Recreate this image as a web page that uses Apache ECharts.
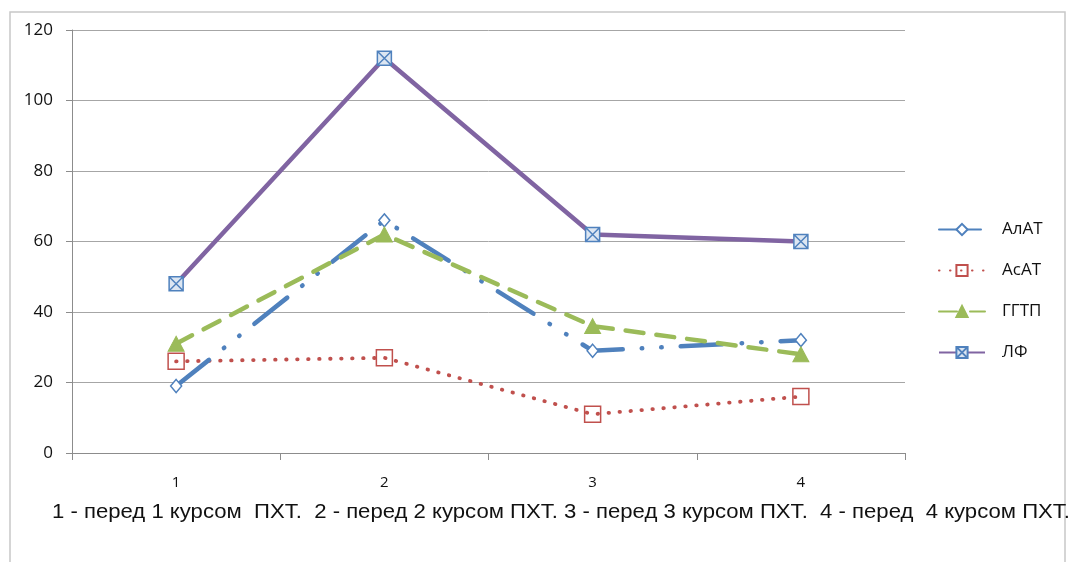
<!DOCTYPE html>
<html>
<head>
<meta charset="utf-8">
<script src="https://cdn.jsdelivr.net/npm/echarts@6/dist/echarts.min.js"></script>
<style>
  html, body { margin: 0; padding: 0; background: #fff; }
  #chart { width: 1075px; height: 562px; }
</style>
</head>
<body>
<div id="chart"></div>
<script>
// Category labels (stages of treatment)
const categories = ['1', '2', '3', '4'];

// Enzyme levels at each stage
const alat = [19, 66, 29, 32];   // АлАТ
const asat = [26, 27, 11, 16];   // АсАТ
const ggtp = [31, 62, 36, 28];   // ГГТП
const lf   = [48, 112, 62, 60];  // ЛФ

const seriesNames = ['АлАТ', 'АсАТ', 'ГГТП', 'ЛФ'];
const footnote = '1 - перед 1 курсом  ПХТ.  2 - перед 2 курсом ПХТ. 3 - перед 3 курсом ПХТ.  4 - перед  4 курсом ПХТ.';

const font = '"Open Sans", "Noto Sans", sans-serif';
const footFont = '20px "Liberation Sans", sans-serif';

// Fit the footnote to the chart width, giving it a condensed look
const footWidth = 1018;
const measureCtx = document.createElement('canvas').getContext('2d');
measureCtx.font = footFont;
const footScale = footWidth / measureCtx.measureText(footnote).width;

const chart = echarts.init(document.getElementById('chart'), null, { renderer: 'canvas' });

const squareX = 'path://M0,0L10,0L10,10L0,10Z M0,0L10,10 M10,0L0,10';

chart.setOption({
  animation: false,
  backgroundColor: '#fff',
  graphic: [
    {
      type: 'rect',
      shape: { x: 10, y: 12, width: 1055, height: 600 },
      style: { fill: 'none', stroke: '#C8C8C8', lineWidth: 1.5 },
      z: -1
    },
    {
      type: 'text',
      x: 52,
      y: 502,
      scaleX: footScale,
      style: { text: footnote, font: footFont, fill: '#111' }
    }
  ],
  grid: { left: 72, right: 170, top: 30, bottom: 109, containLabel: false },
  legend: {
    orient: 'vertical',
    left: 933,
    top: 216,
    itemGap: 24,
    itemWidth: 46,
    itemHeight: 14,
    data: seriesNames,
    textStyle: { fontFamily: font, fontSize: 17, color: '#111', padding: [0, 0, 0, 12] }
  },
  xAxis: {
    type: 'category',
    data: categories,
    boundaryGap: true,
    axisLine: { lineStyle: { color: '#8C8C8C', width: 1 } },
    axisTick: { show: true, length: 7, alignWithLabel: false, lineStyle: { color: '#8C8C8C' } },
    axisLabel: { fontFamily: font, fontSize: 15, color: '#111', margin: 22 }
  },
  yAxis: {
    type: 'value',
    min: 0,
    max: 120,
    interval: 20,
    axisLine: { show: true, lineStyle: { color: '#8C8C8C', width: 1 } },
    axisTick: { show: true, length: 6, inside: false, lineStyle: { color: '#8C8C8C' } },
    splitLine: { lineStyle: { color: '#A6A6A6', width: 1 } },
    axisLabel: { fontFamily: font, fontSize: 17, color: '#111', margin: 19 }
  },
  series: [
    {
      name: 'АлАТ',
      type: 'line',
      data: alat,
      symbol: 'diamond',
      symbolSize: [11, 13],
      itemStyle: { color: '#fff', borderColor: '#4F81BD', borderWidth: 1.5 },
      lineStyle: { color: '#4F81BD', width: 4.5, type: [42, 19, 0.5, 19, 0.5, 19], cap: 'round' },
      z: 3
    },
    {
      name: 'АсАТ',
      type: 'line',
      data: asat,
      symbol: 'rect',
      symbolSize: 16,
      itemStyle: { color: 'rgba(255,255,255,0)', borderColor: '#C0504D', borderWidth: 1.5 },
      lineStyle: { color: '#C0504D', width: 3.8, type: [0.5, 10.5], cap: 'round' },
      z: 2
    },
    {
      name: 'ГГТП',
      type: 'line',
      data: ggtp,
      symbol: 'triangle',
      symbolSize: [16, 15],
      itemStyle: { color: '#9BBB59', borderColor: '#9BBB59', borderWidth: 1 },
      lineStyle: { color: '#9BBB59', width: 4.5, type: [18, 13], cap: 'round' },
      z: 4
    },
    {
      name: 'ЛФ',
      type: 'line',
      data: lf,
      symbol: squareX,
      symbolSize: 14,
      itemStyle: { color: '#DCE6F2', borderColor: '#4F81BD', borderWidth: 1.5 },
      lineStyle: { color: '#8064A2', width: 4.5, type: 'solid' },
      z: 5
    }
  ]
});
</script>
</body>
</html>
